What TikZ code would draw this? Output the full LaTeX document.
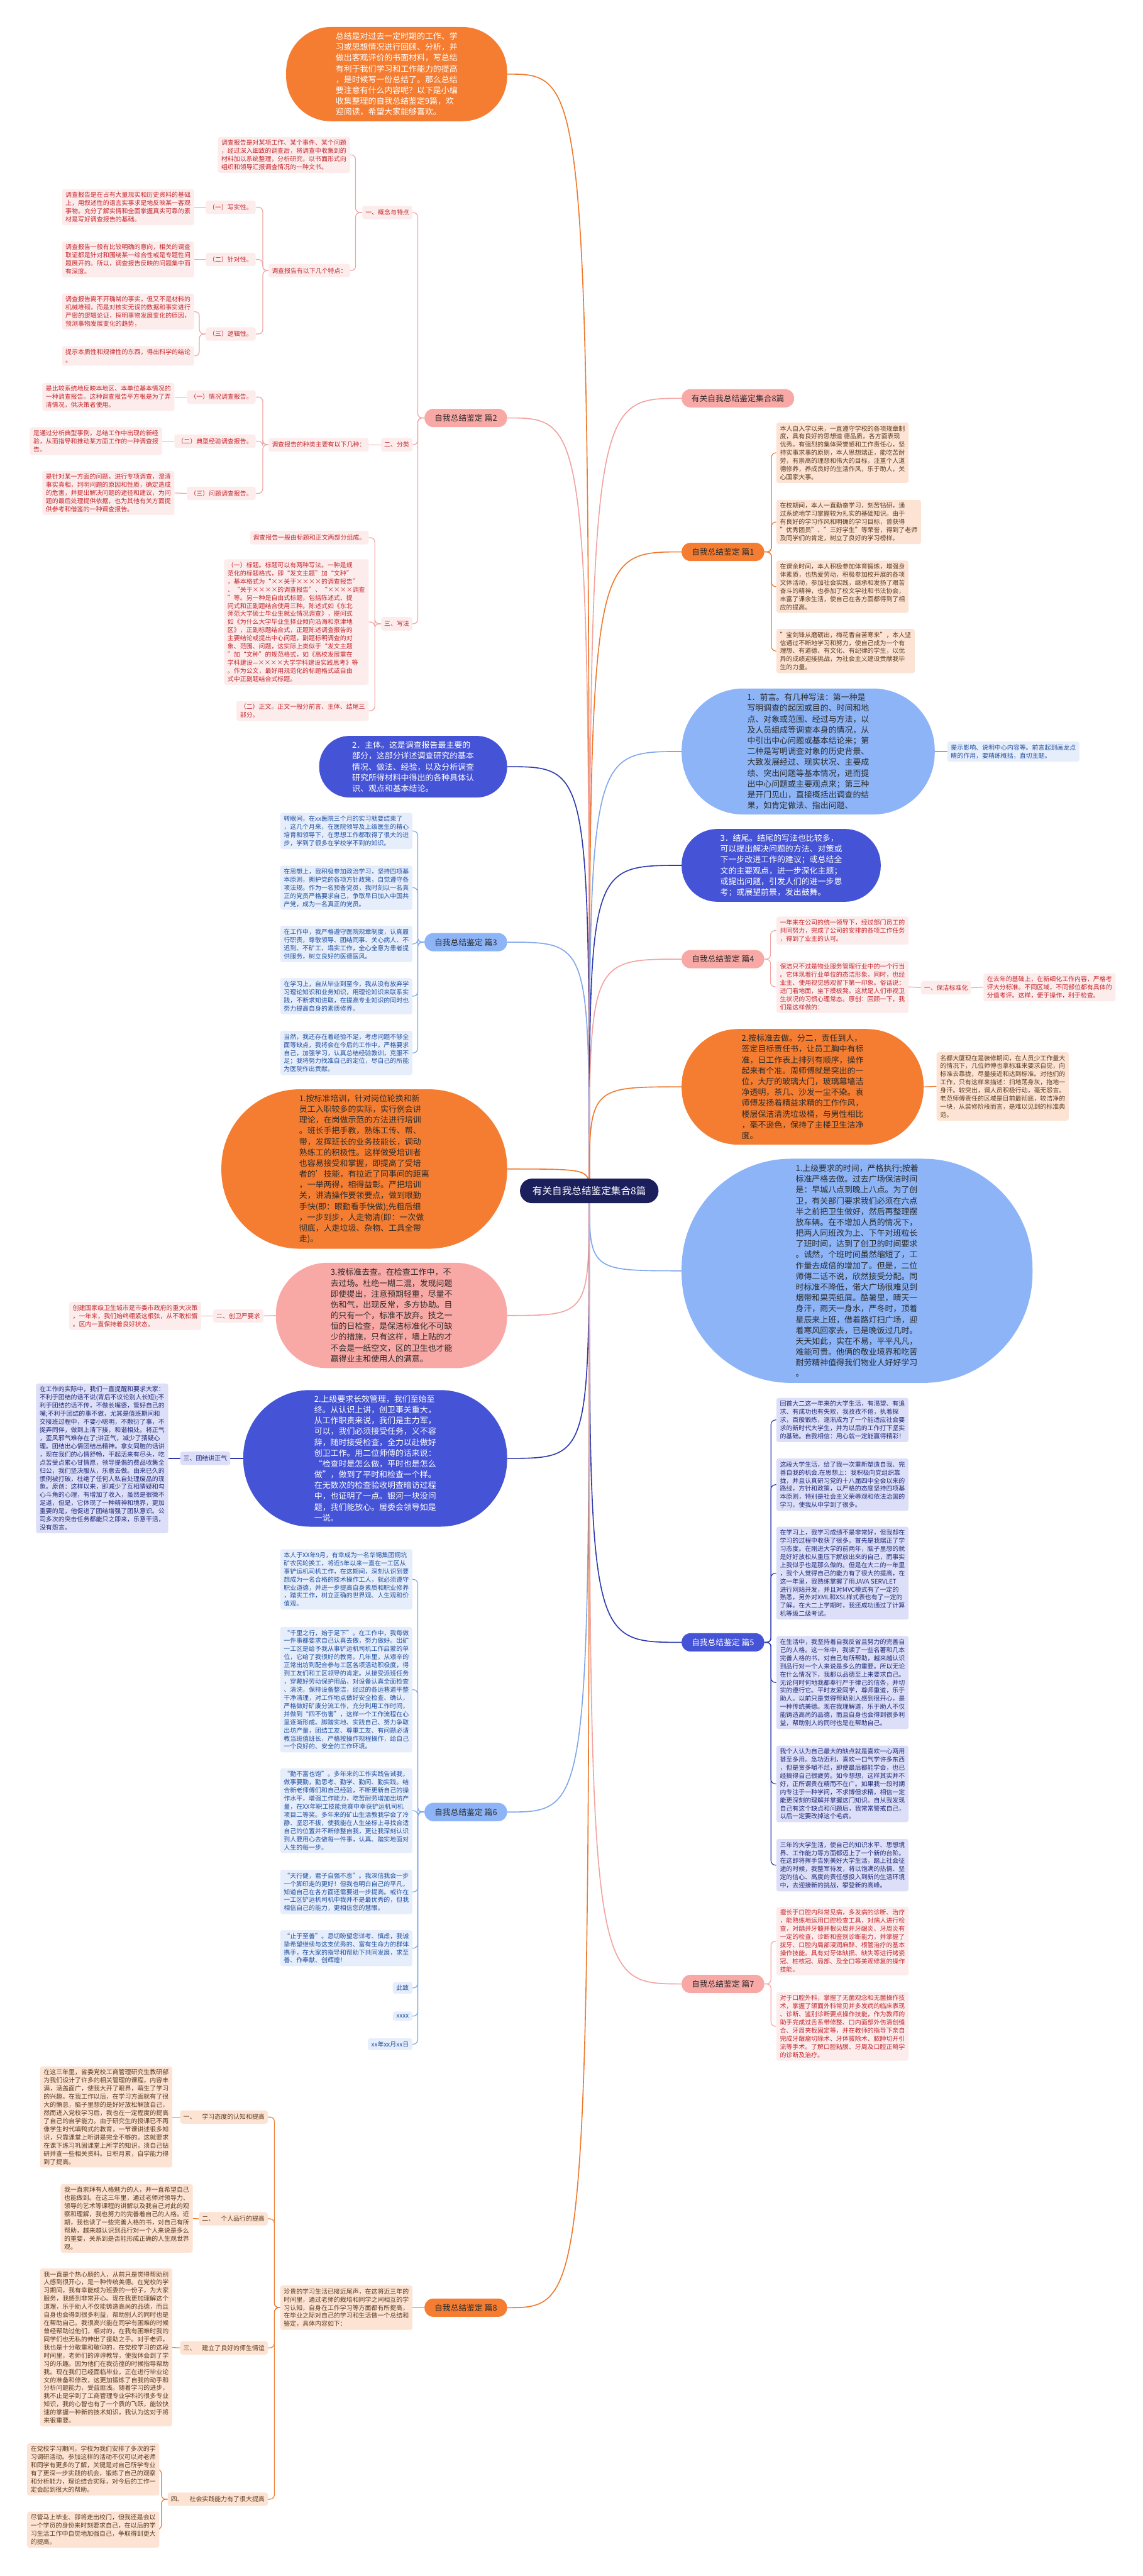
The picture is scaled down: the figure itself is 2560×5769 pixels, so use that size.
\documentclass[tikz,border=0pt]{standalone}
\usepackage{fontspec}
\setmainfont{Noto Sans CJK SC}
\usetikzlibrary{backgrounds}
\definecolor{orangeF}{HTML}{F57D31}
\definecolor{orangeL}{HTML}{FDE3D3}
\definecolor{orangeT}{HTML}{5C3A1E}
\definecolor{orangeC}{HTML}{EE7A2E}
\definecolor{pinkF}{HTML}{F9A9A5}
\definecolor{pinkL}{HTML}{FDECEC}
\definecolor{pinkT}{HTML}{C4262B}
\definecolor{pinkC}{HTML}{F2A3A0}
\definecolor{lblueF}{HTML}{8CB4F7}
\definecolor{lblueL}{HTML}{E6EEFC}
\definecolor{lblueT}{HTML}{1F4E9E}
\definecolor{lblueC}{HTML}{7FA7EB}
\definecolor{rblueF}{HTML}{4553D6}
\definecolor{rblueL}{HTML}{DDDFF8}
\definecolor{rblueT}{HTML}{1E2A78}
\definecolor{rblueC}{HTML}{2D3AAE}
\definecolor{navy}{HTML}{1B1F5C}
\definecolor{darkT}{HTML}{2B2B2B}
\tikzset{
 tb/.style={rounded corners=5pt, inner xsep=8pt, inner ysep=6.5pt, align=left, font=\fontsize{14}{18.2}\selectfont},
 lab/.style={rounded corners=5pt, inner xsep=7pt, inner ysep=0pt, minimum height=30pt, font=\fontsize{14}{18.2}\selectfont},
 pbox/.style={tb, fill=pinkL, text=pinkT}, plab/.style={lab, fill=pinkL, text=pinkT},
 obox/.style={tb, fill=orangeL, text=orangeT}, olab/.style={lab, fill=orangeL, text=orangeT},
 bbox/.style={tb, fill=lblueL, text=lblueT},
 rbox/.style={tb, fill=rblueL, text=rblueT}, rlab/.style={lab, fill=rblueL, text=rblueT},
 lone/.style={rounded corners=20pt, minimum width=185pt, minimum height=41pt, inner sep=0pt, font=\fontsize{18}{22}\selectfont},
 big/.style={align=left, inner sep=0pt, font=\fontsize{18.2}{24.2}\selectfont},
 curve/.style={line width=2.3pt},
 con/.style={line width=1.7pt, rounded corners=10pt},
 pcon/.style={con, draw=pinkC}, ocon/.style={con, draw=orangeC},
 bcon/.style={con, draw=lblueC}, rcon/.style={con, draw=rblueC}
}
\newcommand\lc[4]{\draw[#1] (#2.west) -- ++(-#3,0) |- (#4.east);}
\newcommand\rc[4]{\draw[#1] (#2.east) -- ++(#3,0) |- (#4.west);}
\begin{document}
\begin{tikzpicture}[x=1pt,y=-1pt]
\useasboundingbox (0,0) rectangle (2560,5769);
% root
\node[fill=navy, text=white, rounded corners=27pt, minimum height=55pt, inner xsep=28pt, font=\fontsize{22}{26}\selectfont] (root) at (1320,2667) {有关自我总结鉴定集合8篇};
% ===== left side =====
\node[big, fill=orangeF, text=white, minimum width=495pt, minimum height=211pt, rounded corners=100pt] (top) at (888.5,166) {总结是对过去一定时期的工作、学\\习或思想情况进行回顾、分析，并\\做出客观评价的书面材料，写总结\\有利于我们学习和工作能力的提高\\，是时候写一份总结了。那么总结\\要注意有什么内容呢？以下是小编\\收集整理的自我总结鉴定9篇，欢\\迎阅读，希望大家能够喜欢。};
% 篇2
\node[lone, fill=pinkF, text=darkT] (p2) at (1043.5,936) {自我总结鉴定 篇2};
\node[plab, anchor=east] (p2a) at (924,476) {一、概念与特点};
\node[pbox, anchor=east] (p2a1) at (784,347) {调查报告是对某项工作、某个事件、某个问题\\，经过深入细致的调查后，将调查中收集到的\\材料加以系统整理，分析研究，以书面形式向\\组织和领导汇报调查情况的一种文书。};
\node[plab, anchor=east] (p2a2) at (784,606) {调查报告有以下几个特点：};
\node[plab, anchor=east] (p2a2a) at (573,464) {（一）写实性。};
\node[pbox, anchor=east] (p2a2a1) at (435,464) {调查报告是在占有大量现实和历史资料的基础\\上，用叙述性的语言实事求是地反映某一客观\\事物。充分了解实情和全面掌握真实可靠的素\\材是写好调查报告的基础。};
\node[plab, anchor=east] (p2a2b) at (573,581) {（二）针对性。};
\node[pbox, anchor=east] (p2a2b1) at (435,581) {调查报告一般有比较明确的意向，相关的调查\\取证都是针对和围绕某一综合性或是专题性问\\题展开的。所以，调查报告反映的问题集中而\\有深度。};
\node[plab, anchor=east] (p2a2c) at (573,748) {（三）逻辑性。};
\node[pbox, anchor=east] (p2a2c1) at (435,698) {调查报告离不开确凿的事实，但又不是材料的\\机械堆砌，而是对核实无误的数据和事实进行\\严密的逻辑论证，探明事物发展变化的原因，\\预测事物发展变化的趋势，};
\node[pbox, anchor=east] (p2a2c2) at (435,797) {提示本质性和规律性的东西，得出科学的结论\\。};
\node[plab, anchor=east] (p2b) at (924,996) {二、分类};
\node[plab, anchor=east] (p2b1) at (826,996) {调查报告的种类主要有以下几种：};
\node[plab, anchor=east] (p2b1a) at (573,889) {（一）情况调查报告。};
\node[pbox, anchor=east] (p2b1a1) at (391,889) {是比较系统地反映本地区、本单位基本情况的\\一种调查报告。这种调查报告平方根是为了弄\\清情况，供决策者使用。};
\node[plab, anchor=east] (p2b1b) at (573,988) {（二）典型经验调查报告。};
\node[pbox, anchor=east] (p2b1b1) at (363,988) {是通过分析典型事例，总结工作中出现的新经\\验，从而指导和推动某方面工作的一种调查报\\告。};
\node[plab, anchor=east] (p2b1c) at (573,1105) {（三）问题调查报告。};
\node[pbox, anchor=east] (p2b1c1) at (391,1104) {是针对某一方面的问题，进行专项调查，澄清\\事实真相，判明问题的原因和性质，确定造成\\的危害，并提出解决问题的途径和建议，为问\\题的最后处理提供依据，也为其他有关方面提\\供参考和借鉴的一种调查报告。};
\node[plab, anchor=east] (p2c) at (924,1397) {三、写法};
\node[plab, anchor=east] (p2c1) at (826,1204) {调查报告一般由标题和正文两部分组成。};
\node[pbox, anchor=east] (p2c2) at (826,1393) {（一）标题。标题可以有两种写法。一种是规\\范化的标题格式，即“发文主题”加“文种”\\，基本格式为“××关于××××的调查报告”\\、“关于××××的调查报告”、“××××调查\\”等。另一种是自由式标题，包括陈述式、提\\问式和正副题结合使用三种。陈述式如《东北\\师范大学硕士毕业生就业情况调查》，提问式\\如《为什么大学毕业生择业倾向沿海和京津地\\区》，正副标题结合式，正题陈述调查报告的\\主要结论或提出中心问题，副题标明调查的对\\象、范围、问题，这实际上类似于“发文主题\\”加“文种”的规范格式，如《高校发展重在\\学科建设—××××大学学科建设实践思考》等\\。作为公文，最好用规范化的标题格式或自由\\式中正副题结合式标题。};
\node[pbox, anchor=east] (p2c3) at (826,1592) {（二）正文。正文一般分前言、主体、结尾三\\部分。};
% 2. 主体
\node[big, fill=rblueF, text=white, minimum width=421pt, minimum height=138pt, rounded corners=68pt] (zt) at (925.5,1717) {2．主体。这是调查报告最主要的\\部分，这部分详述调查研究的基本\\情况、做法、经验，以及分析调查\\研究所得材料中得出的各种具体认\\识、观点和基本结论。};
% 篇3
\node[lone, fill=lblueF, text=darkT] (p3) at (1043.5,2110) {自我总结鉴定 篇3};
\node[bbox, anchor=east] (p3a) at (924,1861) {转眼间，在xx医院三个月的实习就要结束了\\，这几个月来，在医院领导及上级医生的精心\\培育和领导下，在思想工作都取得了很大的进\\步，学到了很多在学校学不到的知识。};
\node[bbox, anchor=east] (p3b) at (924,1988) {在思想上，我积极参加政治学习，坚持四项基\\本原则，拥护党的各项方针政策，自觉遵守各\\项法规。作为一名预备党员，我时刻以一名真\\正的党员严格要求自己，争取早日加入中国共\\产党，成为一名真正的党员。};
\node[bbox, anchor=east] (p3c) at (924,2114) {在工作中，我严格遵守医院规章制度，认真履\\行职责，尊敬领导、团结同事、关心病人、不\\迟到、不矿工、塌实工作，全心全意为患者提\\供服务，树立良好的医德医风。};
\node[bbox, anchor=east] (p3d) at (924,2231) {在学习上，自从毕业到至今，我从没有放弃学\\习理论知识和业务知识，用理论知识来联系实\\践，不断求知进取，在提高专业知识的同时也\\努力提高自身的素质修养。};
\node[bbox, anchor=east] (p3e) at (924,2358) {当然，我还存在着经验不足，考虑问题不够全\\面等缺点，我将会在今后的工作中，严格要求\\自己，加强学习，认真总结经验教训，克服不\\足；我将努力找准自己的定位，尽自己的所能\\为医院作出贡献。};
% 1.按标准培训
\node[big, fill=orangeF, text=darkT, minimum width=640pt, minimum height=357pt, rounded corners=175pt] (px) at (816,2618) {1.按标准培训，针对岗位轮换和新\\员工入职较多的实际，实行例会讲\\理论，在岗做示范的方法进行培训\\。班长手把手教，熟练工传、帮、\\带，发挥班长的业务技能长，调动\\熟练工的积极性。这样做受培训者\\也容易接受和掌握，即提高了受培\\者的'技能，有拉近了同事间的距离\\，一举两得，相得益彰。严把培训\\关，讲清操作要领要点，做到眼勤\\手快(即：眼勤看手快做);先粗后细\\，一步到步，人走物清(即：一次做\\彻底，人走垃圾、杂物、工具全带\\走)。};
% 3.按标准去查
\node[big, fill=pinkF, text=darkT, minimum width=518pt, minimum height=236pt, rounded corners=115pt] (cz) at (877,2946) {3.按标准去查。在检查工作中，不\\去过场。杜绝一糊二混，发现问题\\即使提出，注意预期轻重，尽量不\\伤和气，出现反常，多方协助。目\\的只有一个，标准不放弃。技之一\\恒的日检查，是保洁标准化不可缺\\少的措施，只有这样，墙上贴的才\\不会是一纸空文，区的卫生也才能\\赢得业主和使用人的满意。};
\node[plab, anchor=east] (cza) at (590,2947) {二、创卫严要求};
\node[pbox, anchor=east] (cza1) at (451,2947) {创建国家级卫生城市是市委市政府的重大决策\\，一年来，我们始终绷紧这根弦，从不敢松懈\\。区内一直保持着良好状态。};
% 2.上级要求长效管理
\node[big, fill=rblueF, text=white, minimum width=591pt, minimum height=306pt, rounded corners=150pt] (cx) at (840.5,3266) {2.上级要求长效管理，我们至始至\\终。从认识上讲，创卫事关重大，\\从工作职责来说，我们是主力军，\\可以，我们必须接受任务，义不容\\辞，随时接受检查，全力以赴做好\\创卫工作。用二位师傅的话来说：\\“检查时是怎么做，平时也是怎么\\做”，做到了平时和检查一个样。\\在无数次的检查验收明查暗访过程\\中，也证明了一点。银河一块没问\\题，我们能放心。居委会领导如是\\一说。};
\node[rlab, anchor=east] (cxa) at (516,3266) {三、团结讲正气};
\node[rbox, anchor=east] (cxa1) at (377,3266) {在工作的实际中，我们一直提醒和要求大家：\\不利于团结的话不说(背后不议论别人长短);不\\利于团结的话不传，不做长嘴婆，管好自己的\\嘴;不利于团结的事不做，尤其是值班期间和\\交接班过程中，不要小聪明，不敷衍了事，不\\捉弄同伴，做到上清下接，和谐相处。将正气\\，歪风邪气难存在了;讲正气，减少了猜疑心\\理。团结出心情团结出精神。拿女同胞的话讲\\，现在我们的心情舒畅，干起活来有尽头，吃\\点苦受点累心甘情愿，领导提倡的费品收集全\\归公，我们坚决服从，乐意去做。由来已久的\\惯例被打破，杜绝了任何人私自处理废品的现\\象。原创：这样以来，即减少了互相猜疑和勾\\心斗角的心理，有增加了收入，虽然是很微不\\足道，但是，它体现了一种精神和境界，更加\\重要的是，他促进了团结增强了团队意识。公\\司多次的突击任务都能只之即来，乐意干活，\\没有怨言。};
% 篇6
\node[lone, fill=lblueF, text=darkT] (p6) at (1043.5,4058) {自我总结鉴定 篇6};
\node[bbox, anchor=east] (p6a) at (924,3537) {本人于XX年9月，有幸成为一名华锡集团铜坑\\矿农民轮换工，将近5年以来一直在一工区从\\事铲运机司机工作，在这期间，深刻认识到要\\想成为一名合格的技术操作工人，就必须遵守\\职业道德，并进一步提高自身素质和职业修养\\，踏实工作，树立正确的世界观、人生观和价\\值观。};
\node[bbox, anchor=east] (p6b) at (924,3784) {“千里之行，始于足下”。在工作中，我每做\\一件事都要求自己认真去做，努力做好。出矿\\一工区是给予我从事铲运机司机工作启蒙的单\\位，它给了我很好的教育。几年里，从艰辛的\\正常出坊到配合参与工区各项活动积极度，得\\到工友们和工区领导的肯定。从接受派班任务\\，穿戴好劳动保护用品，对设备认真全面检查\\、清洗，保持设备整洁，经过的各运巷道平整\\干净清理，对工作地点做好安全检查、确认，\\严格做好矿废分流工作，充分利用工作时间，\\并做到“四不伤害”，这样一个工作流程在心\\里逐渐形成。脚踏实地、实践自己、努力争取\\出坊产量，团结工友、尊重工友、有问题必请\\教当班值班长，严格按操作规程操作，给自己\\一个良好的、安全的工作环境。};
\node[bbox, anchor=east] (p6c) at (924,4055) {“勤不富也饱”。多年来的工作实践告诫我，\\做事要勤，勤思考、勤学、勤问、勤实践。结\\合新老师傅们和自己经验，不断更新自己的操\\作水平，增强工作能力，吃苦耐劳增加出坊产\\量，在XX年职工技能竞赛中幸获铲运机司机\\项目二等奖。多年来的矿山生活教我学会了冷\\静、坚忍不拔，使我能在人生坐标上寻找合适\\自己的位置并不断修整自我，更让我深刻认识\\到人要用心去做每一件事，认真、踏实地面对\\人生的每一步。};
\node[bbox, anchor=east] (p6d) at (924,4237) {“天行健，君子自强不息”。我深信我会一步\\一个脚印走的更好！但我也明白自己的平凡，\\知道自己在各方面还需要进一步提高。或许在\\一工区铲运机司机中我并不是最优秀的，但我\\相信自己的能力，更相信您的慧眼。};
\node[bbox, anchor=east] (p6e) at (924,4363) {“止于至善”。恳切盼望您详考、慎虑，我诚\\挚希望继续与这支优秀的、富有生命力的群体\\携手，在大家的指导和帮助下共同发展，求至\\善、作奉献、创辉煌！};
\node[bbox, anchor=east] (p6f) at (924,4452) {此致};
\node[bbox, anchor=east] (p6g) at (924,4515) {xxxx};
\node[bbox, anchor=east] (p6h) at (924,4578) {xx年xx月xx日};
% 篇8
\node[lone, fill=orangeF, text=darkT] (p8) at (1043.5,5168) {自我总结鉴定 篇8};
\node[obox, anchor=east] (p8a) at (924,5168) {珍贵的学习生活已接近尾声，在这将近三年的\\时间里，通过老师的栽培和同学之间相互的学\\习认知，自身在工作学习等方面都有所提高，\\在毕业之际对自己的学习和生活做一个总结和\\鉴定，具体内容如下：};
\node[olab, anchor=east] (p8a1) at (600,4741) {一、\quad 学习态度的认知和提高};
\node[obox, anchor=east] (p8a1a) at (386,4741) {在这三年里，省委党校工商管理研究生教研部\\为我们设计了许多的相关管理的课程，内容丰\\满，涵盖面广，使我大开了眼界，萌生了学习\\的兴趣。在我工作以后，在学习方面就有了很\\大的懈怠，脑子里想的是好好放松解放自己，\\然而进入党校学习后，我也在一定程度的提高\\了自己的自学能力。由于研究生的授课已不再\\像学生时代填鸭式的教育，一节课讲述很多知\\识，只靠课堂上听讲是完全不够的。这就要求\\在课下练习巩固课堂上所学的知识，须自己钻\\研并查一些相关资料。日积月累，自学能力得\\到了提高。};
\node[olab, anchor=east] (p8a2) at (600,4969) {二、\quad 个人品行的提高};
\node[obox, anchor=east] (p8a2a) at (432,4968) {我一直崇拜有人格魅力的人，并一直希望自己\\也能做到。在这三年里，通过老师对领导力、\\领导的艺术等课程的讲解以及我自己对此的观\\察和理解，我也努力的完善着自己的人格。近\\期，我也读了一些完善人格的书，对自己有所\\帮助，越来越认识到品行对一个人来说是多么\\的重要，关系到是否能形成正确的人生观世界\\观。};
\node[olab, anchor=east] (p8a3) at (600,5258) {三、\quad 建立了良好的师生情谊};
\node[obox, anchor=east] (p8a3a) at (386,5257) {我一直是个热心肠的人，从前只是觉得帮助别\\人感到很开心，是一种传统美德。在党校的学\\习期间，我有幸能成为班委的一份子，为大家\\服务，我感到非常开心。现在我更加理解这个\\道理，乐于助人不仅能铸造高尚的品德，而且\\自身也会得到很多利益，帮助别人的同时也是\\在帮助自己。我很高兴能在同学有困难的时候\\曾经帮助过他们，相对的，在我有困难时我的\\同学们也无私的伸出了援助之手。对于老师，\\我也是十分敬重和敬仰的，在党校学习的这段\\时间里，老师们的谆谆教导，使我体会到了学\\习的乐趣。因为他们在我彷徨的时候指导帮助\\我。现在我们已经面临毕业，正在进行毕业论\\文的准备和修改，这更加锻炼了自我的动手和\\分析问题能力，受益匪浅。随着学习的进步，\\我不止是学到了工商管理专业学科的很多专业\\知识，我的心智也有了一个质的飞跃，能较快\\速的掌握一种新的技术知识，我认为这对于将\\来很重要。};
\node[olab, anchor=east] (p8a4) at (600,5597) {四、\quad 社会实践能力有了很大提高};
\node[obox, anchor=east] (p8a4a) at (357,5530) {在党校学习期间，学校为我们安排了多次的学\\习调研活动。参加这样的活动不仅可以对老师\\和同学有更多的了解，关键是对自己所学专业\\有了更深一步实践的机会，锻炼了自己的观察\\和分析能力，理论结合实际，对今后的工作一\\定会起到很大的帮助。};
\node[obox, anchor=east] (p8a4b) at (357,5665) {尽管马上毕业、即将走出校门，但我还是会以\\一个学员的身份来时刻要求自己，在以后的学\\习生活工作中自觉地加强自己，争取得到更大\\的提高。};
% ===== right side =====
\node[lone, fill=pinkF, text=darkT, minimum width=252pt] (yg) at (1653,892) {有关自我总结鉴定集合8篇};
% 篇1
\node[lone, fill=orangeF, text=darkT] (p1) at (1619.5,1236) {自我总结鉴定 篇1};
\node[obox, anchor=west] (p1a) at (1739,1014) {本人自入学以来，一直遵守学校的各项规章制\\度，具有良好的思想道 德品质，各方面表现\\优秀。有强烈的集体荣誉感和工作责任心，坚\\持实事求事的原则，本人思想端正，能吃苦耐\\劳，有崇高的理想和伟大的目标，注重个人道\\德修养，养成良好的生活作风，乐于助人，关\\心国家大事。};
\node[obox, anchor=west] (p1b) at (1739,1169) {在校期间，本人一直勤奋学习，刻苦钻研，通\\过系统地学习掌握较为扎实的基础知识。由于\\有良好的学习作风和明确的学习目标，曾获得\\"优秀团员"、"三好学生"等荣誉，得到了老师\\及同学们的肯定，树立了良好的学习榜样。};
\node[obox, anchor=west] (p1c) at (1739,1314) {在课余时间，本人积极参加体育锻炼，增强身\\体素质，也热爱劳动，积极参加校开展的各项\\文体活动，参加社会实践，继承和发扬了艰苦\\奋斗的精神，也参加了校文学社和书法协会，\\丰富了课余生活，使自己在各方面都得到了相\\应的提高。};
\node[obox, anchor=west] (p1d) at (1739,1458) {"宝剑锋从磨砺出，梅花香自苦寒来"，本人坚\\信通过不断地学习和努力，使自己成为一个有\\理想、有道德、有文化、有纪律的学生，以优\\异的成绩迎接挑战，为社会主义建设贡献我毕\\生的力量。};
% 1.前言
\node[big, fill=lblueF, text=darkT, minimum width=567pt, minimum height=282pt, rounded corners=138pt] (qy) at (1810.5,1683) {1．前言。有几种写法：第一种是\\写明调查的起因或目的、时间和地\\点、对象或范围、经过与方法，以\\及人员组成等调查本身的情况，从\\中引出中心问题或基本结论来；第\\二种是写明调查对象的历史背景、\\大致发展经过、现实状况、主要成\\绩、突出问题等基本情况，进而提\\出中心问题或主要观点来；第三种\\是开门见山，直接概括出调查的结\\果，如肯定做法、指出问题、};
\node[bbox, anchor=west] (qya) at (2122,1683) {提示影响、说明中心内容等。前言起到画龙点\\睛的作用，要精练概括，直切主题。};
% 3.结尾
\node[big, fill=rblueF, text=white, minimum width=446pt, minimum height=163pt, rounded corners=80pt] (jw) at (1750,1938) {3．结尾。结尾的写法也比较多，\\可以提出解决问题的方法、对策或\\下一步改进工作的建议；或总结全\\文的主要观点，进一步深化主题；\\或提出问题，引发人们的进一步思\\考；或展望前景，发出鼓舞。};
% 篇4
\node[lone, fill=pinkF, text=darkT] (p4) at (1619.5,2148) {自我总结鉴定 篇4};
\node[pbox, anchor=west] (p4a) at (1739,2084) {一年来在公司的统一领导下，经过部门员工的\\共同努力，完成了公司的安排的各项工作任务\\，得到了业主的认可。};
\node[pbox, anchor=west] (p4b) at (1739,2210) {保洁只不过是物业服务管理行业中的一个行当\\。它体现着行业单位的态洁形象，同时，也经\\业主、使用视觉感观留下第一印象。俗话说：\\进门看地面，坐下摸板凳。这就是人们审视卫\\生状况的习惯心理常态。原创：回顾一下，我\\们是这样做的：};
\node[plab, anchor=west] (p4b1) at (2063,2212) {一、保洁标准化};
\node[pbox, anchor=west] (p4b1a) at (2203,2211) {在去年的基础上，在新细化工作内容，严格考\\评大分标准。不同区域，不同部位都有具体的\\分值考评。这样，便于操作，利于检查。};
% 2.按标准去做
\node[big, fill=orangeF, text=darkT, minimum width=542pt, minimum height=259pt, rounded corners=127pt] (qz) at (1798,2434) {2.按标准去做。分二，责任到人，\\签定目标责任书，让员工胸中有标\\准，日工作表上排列有顺序，操作\\起来有个准。周师傅就是突出的一\\位，大厅的玻璃大门，玻璃幕墙洁\\净透明，茶几、沙发一尘不染。袁\\师傅发扬着精益求精的工作作风，\\楼层保洁清洗垃圾桶，与男性相比\\，毫不逊色，保持了主楼卫生洁净\\度。};
\node[obox, anchor=west] (qza) at (2098,2433) {名都大厦现在是装修期间，在人员少工作量大\\的情况下，几位师傅也拿标准来要求自觉，向\\标准去靠拢，尽量接近和达到标准。对他们的\\工作，只有这样来描述：扫地荡身灰，拖地一\\身汗。较突出，调人员积极行动，毫无怨言。\\老范师傅责任的区域是目前最彻底，较洁净的\\一块，从装修阶段而言，是难以见到的标准典\\范。};
% 1.上级要求的时间
\node[big, fill=lblueF, text=darkT, minimum width=786pt, minimum height=502pt, rounded corners=245pt] (sj) at (1920,2846) {1.上级要求的时间，严格执行;按着\\标准严格去做。过去广场保洁时间\\是：早城八点到晚上八点。为了创\\卫，有关部门要求我们必须在六点\\半之前把卫生做好，然后再整理摆\\放车辆。在不增加人员的情况下，\\把两人同班改为上、下午对班粒长\\了班时间，达到了创卫的时间要求\\。诚然，个班时间虽然缩短了，工\\作量去成倍的增加了。但是，二位\\师傅二话不说，欣然接受分配。同\\时标准不降低，偌大广场很难见到\\烟带和果壳纸屑。酷暑里，晴天一\\身汗，雨天一身水，严冬时，顶着\\星辰来上班，借着路灯扫广场，迎\\着寒风回家去，已是晚饭过几时。\\天天如此，实在不易，平平凡凡，\\难能可贵。他俩的敬业境界和吃苦\\耐劳精神值得我们物业人好好学习\\。};
% 篇5
\node[lone, fill=rblueF, text=white] (p5) at (1619.5,3678) {自我总结鉴定 篇5};
\node[rbox, anchor=west] (p5a) at (1739,3180) {回首大二这一年来的大学生活，有渴望、有追\\求、有成功也有失败，我孜孜不倦，执着探\\求，百般锻炼，逐渐成为了一个能适应社会要\\求的新时代大学生，并为以后的工作打下坚实\\的基础。自我相信：用心就一定能赢得精彩！};
\node[rbox, anchor=west] (p5b) at (1739,3325) {这段大学生活，给了我一次重新塑造自我、完\\善自我的机会.在思想上：我积极向党组织靠\\拢，并且认真研习党的十八届四中全会以来的\\路线，方针和政策，以严格的态度坚持四项基\\本原则，特别是社会主义荣辱观和依法治国的\\学习，使我从中学到了很多。};
\node[rbox, anchor=west] (p5c) at (1739,3523) {在学习上，我学习成绩不是非常好，但我却在\\学习的过程中收获了很多。首先是我端正了学\\习态度。在刚进大学的前两年，脑子里想的就\\是好好放松从重压下解放出来的自己，而事实\\上我似乎也是那么做的。但是在大二的一年里\\，我个人觉得自己的能力有了很大的提高，在\\这一年里，我熟练掌握了用JAVA SERVLET\\进行网站开发，并且对MVC模式有了一定的\\熟悉，另外对XML和XSL样式表也有了一定的\\了解。在大二上学期时，我还成功通过了计算\\机等级二级考试。};
\node[rbox, anchor=west] (p5d) at (1739,3768) {在生活中，我坚持着自我反省且努力的完善自\\己的人格。这一年中，我读了一些名著和几本\\完善人格的书，对自己有所帮助，越来越认识\\到品行对一个人来说是多么的重要。所以无论\\在什么情况下，我都以品德至上来要求自己。\\无论何时何地我都奉行严于律己的信条，并切\\实的遵行它。平时友爱同学，尊师重道，乐于\\助人。以前只是觉得帮助别人感到很开心，是\\一种传统美德。现在我理解道，乐于助人不仅\\能铸造高尚的品德，而且自身也会得到很多利\\益，帮助别人的同时也是在帮助自己。};
\node[rbox, anchor=west] (p5e) at (1739,3995) {我个人认为自己最大的缺点就是喜欢一心两用\\甚至多用。急功近利，喜欢一口气学许多东西\\，但是贪多嚼不烂，即使最后都能学会，也已\\经搞得自己很疲劳。如今想想，这样其实并不\\好，正所谓贵在精而不在广。如果我一段时期\\内专注于一种学问，不求博但求精，相信一定\\能更深刻的理解并掌握这门知识。自从我发现\\自己有这个缺点和问题后，我常常警戒自己，\\以后一定要改掉这个毛病。};
\node[rbox, anchor=west] (p5f) at (1739,4177) {三年的大学生活，使自己的知识水平、思想境\\界、工作能力等方面都迈上了一个新的台阶。\\在这即将挥手告别美好大学生活，踏上社会征\\途的时候，我整军待发，将以饱满的热情、坚\\定的信心、高度的责任感投入到新的生活环境\\中，去迎接新的挑战，攀登新的高峰。};
% 篇7
\node[lone, fill=pinkF, text=darkT] (p7) at (1619.5,4443) {自我总结鉴定 篇7};
\node[pbox, anchor=west] (p7a) at (1739,4347) {擅长于口腔内科常见病，多发病的诊断、治疗\\，能熟练地运用口腔检查工具，对病人进行检\\查，对龋并牙髓并根尖周并牙龈炎、牙周炎有\\一定的检查，诊断和鉴别诊断能力，并掌握了\\拔牙、口腔内局部浸润麻醉、根管治疗的基本\\操作技能。具有对牙体缺损、缺失等进行烤瓷\\冠、桩核冠、局部、及全口等美观修复的操作\\技能。};
\node[pbox, anchor=west] (p7b) at (1739,4538) {对于口腔外科，掌握了无菌观念和无菌操作技\\术，掌握了颌面外科常见并多发病的临床表现\\、诊断、鉴别诊断要点操作技能，作为教师的\\助手完成过舌系带修整、口内面部外伤清创缝\\合、牙周夹板固定等，并在教师的指导下亲自\\完成牙龈瘤切除术、牙体拔除术、脓肿切开引\\流等手术。了解口腔粘膜、牙周及口腔正畸学\\的诊断及治疗。};
% ===== connectors =====
\begin{scope}[on background layer]
\fill[white] (0,0) rectangle (2560,5769);
\foreach \n/\c in {top/orangeC, p2/pinkC, zt/rblueC, p3/lblueC, px/orangeC, cz/pinkC, cx/rblueC, p6/lblueC, p8/orangeC}
  \draw[curve, draw=\c] (root.center) .. controls (root.center |- \n.east) .. (\n.east);
\foreach \n/\c in {yg/pinkC, p1/orangeC, qy/lblueC, jw/rblueC, p4/pinkC, qz/orangeC, sj/lblueC, p5/rblueC, p7/pinkC}
  \draw[curve, draw=\c] (root.center) .. controls (root.center |- \n.west) .. (\n.west);
\foreach \k in {p2a,p2b,p2c} {\lc{pcon}{p2}{15}{\k}}
\foreach \k in {p2a1,p2a2} {\lc{pcon}{p2a}{15}{\k}}
\foreach \k in {p2a2a,p2a2b,p2a2c} {\lc{pcon}{p2a2}{13}{\k}}
\draw[pcon] (p2a2a.west) -- (p2a2a1.east);
\draw[pcon] (p2a2b.west) -- (p2a2b1.east);
\foreach \k in {p2a2c1,p2a2c2} {\lc{pcon}{p2a2c}{14}{\k}}
\draw[pcon] (p2b.west) -- (p2b1.east);
\foreach \k in {p2b1a,p2b1b,p2b1c} {\lc{pcon}{p2b1}{13}{\k}}
\draw[pcon] (p2b1a.west) -- (p2b1a1.east);
\draw[pcon] (p2b1b.west) -- (p2b1b1.east);
\draw[pcon] (p2b1c.west) -- (p2b1c1.east);
\foreach \k in {p2c1,p2c2,p2c3} {\lc{pcon}{p2c}{14}{\k}}
\foreach \k in {p3a,p3b,p3c,p3d,p3e} {\lc{bcon}{p3}{15}{\k}}
\draw[pcon] (cz.west) -- (cza.east);
\draw[pcon] (cza.west) -- (cza1.east);
\draw[rcon] (cx.west) -- (cxa.east);
\draw[rcon] (cxa.west) -- (cxa1.east);
\foreach \k in {p6a,p6b,p6c,p6d,p6e,p6f,p6g,p6h} {\lc{bcon}{p6}{15}{\k}}
\draw[ocon] (p8.west) -- (p8a.east);
\foreach \k in {p8a1,p8a2,p8a3,p8a4} {\lc{ocon}{p8a}{13}{\k}}
\draw[ocon] (p8a1.west) -- (p8a1a.east);
\draw[ocon] (p8a2.west) -- (p8a2a.east);
\draw[ocon] (p8a3.west) -- (p8a3a.east);
\foreach \k in {p8a4a,p8a4b} {\lc{ocon}{p8a4}{14}{\k}}
\foreach \k in {p1a,p1b,p1c,p1d} {\rc{ocon}{p1}{16}{\k}}
\draw[bcon] (qy.east) -- (qya.west);
\foreach \k in {p4a,p4b} {\rc{pcon}{p4}{14}{\k}}
\draw[pcon] (p4b.east) -- (p4b1.west);
\draw[pcon] (p4b1.east) -- (p4b1a.west);
\draw[ocon] (qz.east) -- (qza.west);
\foreach \k in {p5a,p5b,p5c,p5d,p5e,p5f} {\rc{rcon}{p5}{15}{\k}}
\foreach \k in {p7a,p7b} {\rc{pcon}{p7}{15}{\k}}
\end{scope}
\end{tikzpicture}
\end{document}
